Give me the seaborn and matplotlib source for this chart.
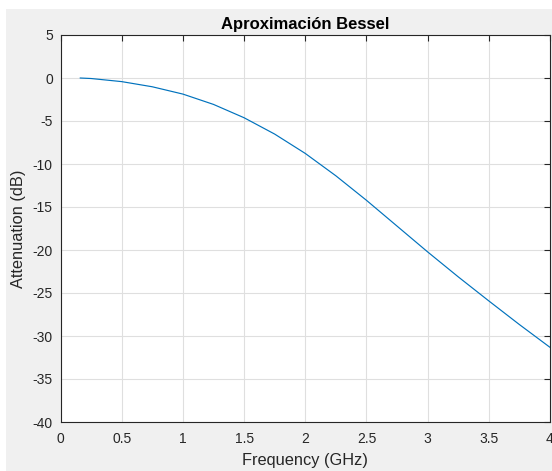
import matplotlib
matplotlib.use("Agg")
import matplotlib.pyplot as plt
import seaborn as sns
import pandas as pd
from matplotlib.patches import Rectangle

freq_ghz = [0.16, 0.25, 0.5, 0.75, 1.0, 1.25, 1.5, 1.75, 2.0, 2.25, 2.5,
            2.75, 3.0, 3.25, 3.5, 3.75, 4.0]
atten_db = [0.0, -0.06, -0.42, -1.02, -1.87, -3.07, -4.62, -6.52, -8.77, -11.37,
            -14.22, -17.22, -20.22, -23.12, -25.92, -28.67, -31.32]
x_ticks = [0, 0.5, 1, 1.5, 2, 2.5, 3, 3.5, 4]
x_tick_labels = ["0", "0.5", "1", "1.5", "2", "2.5", "3", "3.5", "4"]
y_ticks = [5, 0, -5, -10, -15, -20, -25, -30, -35, -40]
y_tick_labels = [str(v) for v in y_ticks]

sns.set_style("white")
plt.rcParams['font.family'] = ['Liberation Sans', 'DejaVu Sans']
plt.rcParams['axes.unicode_minus'] = False

df = pd.DataFrame({"freq": freq_ghz, "att": atten_db})

fig = plt.figure(figsize=(5.52, 4.71), dpi=100, facecolor="white")
fig.patches.append(Rectangle((6 / 552, 0), 1, (471 - 9) / 471,
                             transform=fig.transFigure, facecolor="#f0f0f0",
                             edgecolor="none", zorder=-10))
ax = fig.add_axes([60.5 / 552, (471 - 422) / 471, (550 - 60.5) / 552, 387 / 471])
ax.set_zorder(1)
ax.set_facecolor("white")

sns.lineplot(data=df, x="freq", y="att", ax=ax, color="#0072BD", linewidth=0.85,
             estimator=None, sort=False)

ax.set_xlim(0, 4)
ax.set_ylim(-40, 5)
ax.set_xticks(x_ticks)
ax.set_xticklabels(x_tick_labels)
ax.set_yticks(y_ticks)
ax.set_yticklabels(y_tick_labels)
ax.grid(True, color="#dfdfdf", linewidth=0.8)
ax.set_axisbelow(True)
for s in ax.spines.values():
    s.set_color("#262626")
    s.set_linewidth(0.8)
    s.set_visible(True)
ax.tick_params(direction="in", length=4, width=0.8, color="#262626",
               labelcolor="#262626", labelsize=10, top=True, right=True,
               labeltop=False, labelright=False)
ax.tick_params(axis="x", pad=7)
ax.tick_params(axis="y", pad=5.5)
ax.set_xlabel("Frequency (GHz)", fontsize=11.8, color="#262626", labelpad=5)
ax.set_ylabel("Attenuation (dB)", fontsize=11.8, color="#262626", labelpad=5)
ax.set_title("Aproximación Bessel", fontsize=12, fontweight="bold",
             color="#000000", pad=4)

fig.savefig("out.png", dpi=100, facecolor=fig.get_facecolor())
